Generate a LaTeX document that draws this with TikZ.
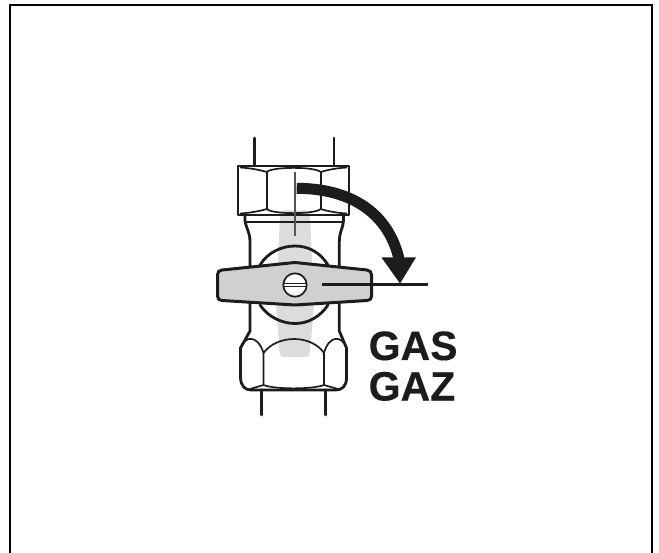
\documentclass[tikz,border=0pt]{standalone}
\usepackage{fontspec}
\setmainfont[BoldFeatures={FakeBold=0.25}]{Liberation Sans}
\usepackage{xcolor}
\usetikzlibrary{math}
\definecolor{vlight}{RGB}{220,220,220}
\definecolor{vgrey}{RGB}{208,208,208}
\definecolor{vdark}{RGB}{30,27,28}
\tikzset{
  outline/.style={color=vdark, line width=2.8, line join=round, line cap=round},
  facet/.style={color=vdark, line width=1.7, line join=round},
  gastext/.style={font=\bfseries\fontsize{41}{41}\selectfont, color=vdark, inner sep=0, anchor=base west},
}

\begin{document}
\begin{tikzpicture}[x=1pt,y=-1pt]
\tikzmath{
\Cx = 295;
\Cy = 285;
\R = 11.7;
}
\useasboundingbox (0,0) rectangle (659,553);

\draw[color=black, line width=2] (9.5,553) -- (9.5,5) -- (651.5,5) -- (651.5,553);

% pipe ends
\draw[outline] (254.3,138) -- (254.3,165) (334,138) -- (334,165);
\draw[outline] (261.7,390) -- (261.7,415) (325.7,390) -- (325.7,415);

% grey lever behind the body
\fill[color=vlight] (280,215) .. controls (280,212) and (282,210.5) .. (284,210.5) -- (306,210.5) .. controls (308,210.5) and (310,212) .. (310,215) -- (314,305) -- (310,352) .. controls (310,355) and (308,357) .. (306,357) -- (283,357) .. controls (281,357) and (279.5,355) .. (279.5,352) -- (276,305) -- cycle;

% body
\draw[outline] (245,216) -- (245,221) .. controls (246,228) and (250,232) .. (250,242) -- (250,331) -- (240.5,348) -- (240.5,378) .. controls (241,386) and (245,390) .. (251,390) -- (336,390) .. controls (342,390) and (346.5,386) .. (346.5,378) -- (346.5,348) -- (339.3,331) -- (339.3,242) .. controls (339.3,232) and (343,228) .. (343.5,221) -- (343.5,216);
\draw[facet] (245,222) -- (343.5,222);

% lower nut facets
\draw[facet] (240.5,348) .. controls (245,335) and (258,335) .. (263.5,353) -- (263.5,385) (324,353) -- (324,385);
\draw[facet] (346.5,348) .. controls (342,335) and (329,335) .. (324,353);
\draw[facet] (263.5,353) .. controls (270,344) and (282,339) .. (294,339) .. controls (306,339) and (318,344) .. (324,353);
\draw[facet] (250,389) -- (263.5,385) .. controls (275,389.5) and (312,389.5) .. (324,385) -- (338,389);

% upper nut
\draw[outline] (238,166) rectangle (349,215);
\draw[facet] (266.7,172) -- (266.7,209) (320.7,172) -- (320.7,209);
\draw[facet] (240,167.5) .. controls (250,168) and (260,170) .. (266.7,172) .. controls (272,166.5) and (315,166.5) .. (320.7,172) .. controls (327,170) and (337,168) .. (347,167.5);
\draw[facet] (240,213.5) .. controls (250,213) and (260,211) .. (266.7,209) .. controls (272,214.5) and (315,214.5) .. (320.7,209) .. controls (327,211) and (337,213) .. (347,213.5);

% dome of the valve
\draw[outline] (260,265) .. controls (268,252) and (282,246) .. (295,246) .. controls (308,246) and (320,252) .. (328,265);
\draw[outline] (260,305) .. controls (268,317) and (282,323.5) .. (295,323.5) .. controls (308,323.5) and (320,317) .. (328,305);

% handle
\draw[outline, line width=3, fill=vgrey] (222,270) -- (295,262.5) -- (367,270) .. controls (370,270.5) and (371.5,272) .. (371.5,275) -- (371.5,296) .. controls (371.5,299) and (370,300.5) .. (367,300.5) -- (295,305) -- (222,300.5) .. controls (219,300.5) and (217.5,299) .. (217.5,296) -- (217.5,275) .. controls (217.5,272) and (219,270) .. (222,270) -- cycle;

% screw
\draw[facet, fill=white] (\Cx,\Cy) circle (\R);
\draw[facet] ({\Cx-\R},{\Cy-1.5}) -- ({\Cx+\R},{\Cy-1.5}) ({\Cx-\R},{\Cy+1.5}) -- ({\Cx+\R},{\Cy+1.5});

% marks and arrow
\draw[color=vdark!75, line width=1.2] (295,172) -- (295,236);
\draw[color=vdark, line width=3] (322.3,285) -- (427.7,285);
\draw[color=vdark, line width=11] (296.7,188.3) .. controls (350,188.5) and (388,212) .. (399,259);
\fill[color=vdark] (381.5,257.5) -- (415.9,257.5) -- (400,283.5) -- cycle;

\node[gastext] (gas) at (368.5,360) {GAS};
\node[gastext] (gaz) at (368.5,400.5) {GAZ};
\end{tikzpicture}
\end{document}
